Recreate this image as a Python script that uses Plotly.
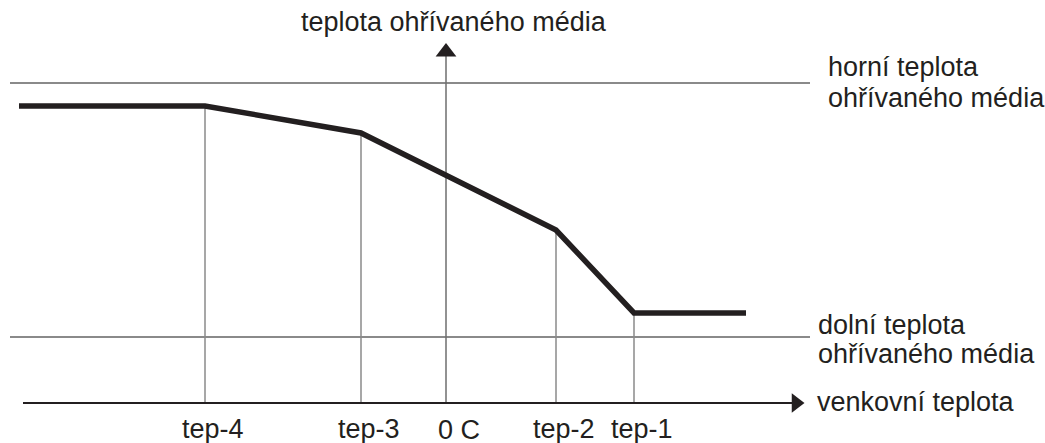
import plotly.graph_objects as go

# Heating curve (schematic units: 0 = "0 C" on x, 0 = outdoor-temperature axis on y)
curve_x = [-427, -241, -85, 110, 188, 300]
curve_y = [297, 297, 270, 173, 90, 90]

tick_labels = ["tep-4", "tep-3", "0 C", "tep-2", "tep-1"]
tick_x = [-241, -85, 0, 110, 188]
tick_top = [297, 270, None, 173, 90]

upper_limit = 320
lower_limit = 66
limit_x = [-436, 364]
axis_x = [-423, 357]
axis_y = [0, 361]

y_axis_title = "teplota ohřívaného média"
x_axis_title = "venkovní teplota"
upper_label = ["horní teplota", "ohřívaného média"]
lower_label = ["dolní teplota", "ohřívaného média"]

INK = "#231f20"
GRAY = "#8a8a8a"
FONT = dict(family="Liberation Sans, Arial, sans-serif", size=27, color=INK)

fig = go.Figure()

# limit lines
for yv in (upper_limit, lower_limit):
    fig.add_trace(go.Scatter(x=limit_x, y=[yv, yv], mode="lines",
                             line=dict(color=GRAY, width=2), hoverinfo="skip"))

# drop lines from curve breakpoints to x axis
for xv, top in zip(tick_x, tick_top):
    if top is None:
        continue
    fig.add_trace(go.Scatter(x=[xv, xv], y=[0, top], mode="lines",
                             line=dict(color=GRAY, width=1.5), hoverinfo="skip"))

# vertical axis (0 C)
fig.add_trace(go.Scatter(x=[0, 0], y=[axis_y[0], axis_y[1] - 12], mode="lines",
                         line=dict(color="#6e6e6e", width=1.5), hoverinfo="skip"))
# horizontal axis
fig.add_trace(go.Scatter(x=[axis_x[0], axis_x[1] - 10], y=[0, 0], mode="lines",
                         line=dict(color=INK, width=1.8), hoverinfo="skip"))

# arrow heads
fig.add_trace(go.Scatter(x=[0], y=[axis_y[1] - 10], mode="markers",
                         marker=dict(symbol="triangle-up", size=18, color=INK,
                                     line=dict(width=0)), hoverinfo="skip"))
fig.add_trace(go.Scatter(x=[axis_x[1] - 7], y=[0], mode="markers",
                         marker=dict(symbol="triangle-right", size=17, color=INK,
                                     line=dict(width=0)), hoverinfo="skip"))

# heating curve
fig.add_trace(go.Scatter(x=curve_x, y=curve_y, mode="lines",
                         line=dict(color=INK, width=5.5), hoverinfo="skip"))

ann = []
for lbl, xv in zip(tick_labels, tick_x):
    ann.append(dict(x=xv, y=-26 if lbl != "0 C" else -27, text=lbl, showarrow=False,
                    xanchor="center", yanchor="middle", xshift=8 if lbl != "0 C" else 13))
ann.append(dict(x=0, y=381, text=y_axis_title, showarrow=False,
                xanchor="center", yanchor="middle", xshift=8))
ann.append(dict(x=369, y=1, text=x_axis_title, showarrow=False,
                xanchor="left", yanchor="middle"))
for i, line in enumerate(upper_label):
    ann.append(dict(x=380, y=336 - 31 * i, text=line, showarrow=False,
                    xanchor="left", yanchor="middle"))
for i, line in enumerate(lower_label):
    ann.append(dict(x=370, y=78 - 29 * i, text=line, showarrow=False,
                    xanchor="left", yanchor="middle"))

fig.update_layout(
    width=1045, height=443,
    margin=dict(l=0, r=0, t=0, b=0),
    paper_bgcolor="white", plot_bgcolor="white",
    showlegend=False,
    font=FONT,
    annotations=ann,
    xaxis=dict(range=[-446, 599], visible=False, fixedrange=True),
    yaxis=dict(range=[-40, 403], visible=False, fixedrange=True),
)

fig.write_html("out.html", config={"displayModeBar": False},
               post_script="document.body.style.margin='0';document.body.style.overflow='hidden';")
